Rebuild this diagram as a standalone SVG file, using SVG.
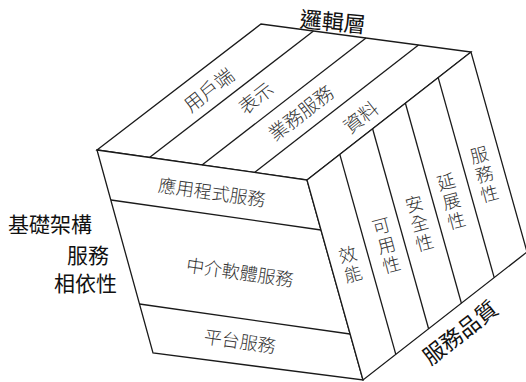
<svg xmlns="http://www.w3.org/2000/svg" width="526" height="382" viewBox="0 0 526 382">
<style>
.face{fill:#ffffff;stroke:#1a1a1a;stroke-width:1.3;stroke-linejoin:miter}
.div{stroke:#1a1a1a;stroke-width:1.3;fill:none}
.lbl{font-family:"Noto Sans CJK TC","Noto Sans CJK SC",sans-serif;font-size:19px;fill:#333;font-weight:300;text-anchor:middle;dominant-baseline:central}
.big{font-family:"Noto Sans CJK TC","Noto Sans CJK SC",sans-serif;font-size:22px;fill:#111;dominant-baseline:central}
</style>
<rect width="526" height="382" fill="#ffffff"/>
<g id="cube">
<polygon class="face" points="97,150 261,24 471,52 307,180"/>
<polygon class="face" points="97,150 307,180 363,380 153,353"/>
<polygon class="face" points="307,180 471,52 527,252 363,380"/>
</g>
<g id="connectors">
<line class="div" x1="149.5" y1="157.5" x2="313.5" y2="31"/>
<line class="div" x1="202" y1="165" x2="366" y2="38"/>
<line class="div" x1="254.5" y1="172.5" x2="418.5" y2="45"/>
<line class="div" x1="111" y1="200" x2="321" y2="230"/>
<line class="div" x1="139.5" y1="304" x2="350" y2="334"/>
<line class="div" x1="339.8" y1="154.4" x2="395.8" y2="354.4"/>
<line class="div" x1="372.6" y1="128.8" x2="428.6" y2="328.8"/>
<line class="div" x1="405.4" y1="103.2" x2="461.4" y2="303.2"/>
<line class="div" x1="438.2" y1="77.6" x2="494.2" y2="277.6"/>
</g>
<g id="logic-layer"><text class="big" text-anchor="middle" transform="translate(333,20) rotate(5)">邏輯層</text></g>
<g id="client"><text class="lbl" transform="translate(208,89) rotate(-38)">用戶端</text></g>
<g id="presentation"><text class="lbl" transform="translate(255,97) rotate(-38)">表示</text></g>
<g id="business"><text class="lbl" transform="translate(300,112) rotate(-38)">業務服務</text></g>
<g id="data"><text class="lbl" transform="translate(360,116) rotate(-38)">資料</text></g>
<g id="app-services"><text class="lbl" style="font-size:18px" transform="translate(212,191) rotate(8)">應用程式服務</text></g>
<g id="middleware"><text class="lbl" style="font-size:18px" transform="translate(240,271) rotate(8)">中介軟體服務</text></g>
<g id="platform"><text class="lbl" style="font-size:18px" transform="translate(240,340) rotate(8)">平台服務</text></g>
<g id="infra"><text class="big" style="font-size:21px"><tspan x="8" y="223">基礎架構</tspan><tspan x="67" y="254">服務</tspan><tspan x="54" y="282">相依性</tspan></text></g>
<g id="performance"><text class="lbl" style="font-size:18px" transform="translate(350,263) rotate(-15)"><tspan x="0" y="-10">效</tspan><tspan x="0" y="10">能</tspan></text></g>
<g id="availability"><text class="lbl" style="font-size:18px" transform="translate(386,244) rotate(-15)"><tspan x="0" y="-20">可</tspan><tspan x="0" y="0">用</tspan><tspan x="0" y="20">性</tspan></text></g>
<g id="security"><text class="lbl" style="font-size:18px" transform="translate(419,222) rotate(-15)"><tspan x="0" y="-20">安</tspan><tspan x="0" y="0">全</tspan><tspan x="0" y="20">性</tspan></text></g>
<g id="scalability"><text class="lbl" style="font-size:18px" transform="translate(451,200) rotate(-15)"><tspan x="0" y="-20">延</tspan><tspan x="0" y="0">展</tspan><tspan x="0" y="20">性</tspan></text></g>
<g id="serviceability"><text class="lbl" style="font-size:18px" transform="translate(484,173) rotate(-15)"><tspan x="0" y="-20">服</tspan><tspan x="0" y="0">務</tspan><tspan x="0" y="20">性</tspan></text></g>
<g id="qos"><text class="big" text-anchor="middle" transform="translate(459,331) rotate(-38)">服務品質</text></g>
</svg>
